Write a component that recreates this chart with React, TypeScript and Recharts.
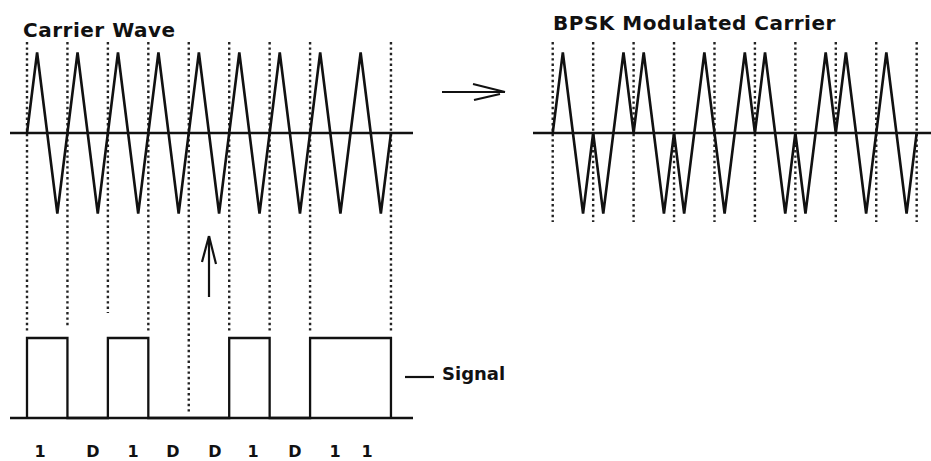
import React from 'react'
import { ComposedChart, Line, XAxis, YAxis, ReferenceLine } from 'recharts'

// bit stream and its printed labels
const bits = [1, 0, 1, 0, 0, 1, 0, 1, 1]
const bitLabels = ['1', 'D', '1', 'D', 'D', '1', 'D', '1', '1']
// one carrier period sampled at quarter periods: zero, crest, zero, trough
const carrierShape = [0, 1, 0, -1]
// bit boundaries that carry a dotted guide
const leftDividers = [0, 1, 2, 3, 4, 5, 6, 7, 9]
const rightDividers = [0, 1, 2, 3, 4, 5, 6, 7, 8, 9]

// ---- layout (pixels) ----
const W = 931
const H = 461
const AXIS_H = 30
const PLOT_H = H - AXIS_H
const X0 = 27 // pixel of first bit boundary
const BIT_W = 40.44
const RIGHT_OFFSET = 13 // right panel starts 13 bit widths later
const ZERO_Y = 133
const AMP = 80.5
const BASE_Y = 418
const HIGH_Y = 338
const LINE = '#111'
const FONT = '"DejaVu Sans", sans-serif'

const toT = (px: number) => (px - X0) / BIT_W
const toC = (py: number) => (ZERO_Y - py) / AMP
const toS = (py: number) => (BASE_Y - py) / (BASE_Y - HIGH_Y)

const leftDividerEnds = [332, 328, 313, 332, 412, 332, 332, 332, 332]
const labelX = [40, 93, 133, 173, 215, 253, 295, 335, 367]

function wave(offset: number, modulated: boolean) {
  const pts: { t: number; y: number }[] = []
  bits.forEach((b, i) => {
    const sign = modulated && b === 0 ? -1 : 1
    carrierShape.forEach((v, q) => pts.push({ t: offset + i + q / 4, y: v * sign }))
  })
  pts.push({ t: offset + bits.length, y: 0 })
  return pts
}

const carrierData = wave(0, false)
const bpskData = wave(RIGHT_OFFSET, true)
const signalData = [{ t: 0, s: 0 }, ...bits.map((b, i) => ({ t: i, s: b })), { t: bits.length, s: 0 }]

const dotted = { stroke: '#222', strokeWidth: 2.4, strokeDasharray: '2.4 3' }

function seg(axis: string, a: [number, number], b: [number, number], key: string, width = 2.2) {
  const fy = axis === 'carrier' ? toC : toS
  return (
    <ReferenceLine
      key={key}
      yAxisId={axis}
      segment={[{ x: toT(a[0]), y: fy(a[1]) }, { x: toT(b[0]), y: fy(b[1]) }]}
      stroke={LINE}
      strokeWidth={width}
      ifOverflow="visible"
    />
  )
}

export default function App() {
  const text = { position: 'absolute' as const, fontFamily: FONT, fontWeight: 700, color: '#111', whiteSpace: 'nowrap' as const }
  return (
    <div style={{ position: 'absolute', left: 0, top: 0, width: W, height: H, background: '#fff' }}>
      <ComposedChart width={W} height={H} margin={{ top: 0, right: 0, bottom: 0, left: 0 }}>
        <XAxis
          dataKey="t"
          type="number"
          domain={[toT(0), toT(W)]}
          allowDataOverflow
          ticks={labelX.map(toT)}
          interval={0}
          tickFormatter={(_v: number, i: number) => bitLabels[i]}
          axisLine={false}
          tickLine={false}
          tickSize={0}
          tickMargin={15}
          height={AXIS_H}
          tick={{ fill: '#111', fontSize: 16, fontWeight: 700, fontFamily: FONT }}
        />
        <YAxis yAxisId="carrier" type="number" hide allowDataOverflow domain={[toC(PLOT_H), toC(0)]} />
        <YAxis yAxisId="signal" type="number" hide allowDataOverflow domain={[toS(PLOT_H), toS(0)]} />

        {leftDividers.map((d, i) => (
          <ReferenceLine
            key={'ld' + i}
            yAxisId="carrier"
            segment={[{ x: d, y: toC(42) }, { x: d, y: toC(leftDividerEnds[i]) }]}
            {...dotted}
          />
        ))}
        {rightDividers.map((d) => (
          <ReferenceLine
            key={'rd' + d}
            yAxisId="carrier"
            segment={[{ x: RIGHT_OFFSET + d, y: toC(42) }, { x: RIGHT_OFFSET + d, y: toC(222) }]}
            {...dotted}
          />
        ))}

        {seg('carrier', [10, ZERO_Y], [413, ZERO_Y], 'z1', 2.6)}
        {seg('carrier', [533, ZERO_Y], [W, ZERO_Y], 'z2', 2.6)}
        {seg('signal', [10, BASE_Y], [413, BASE_Y], 'base', 2.3)}
        {seg('signal', [405, 377], [434, 377], 'dash')}

        {seg('carrier', [442, 92], [505, 92], 'ra')}
        {seg('carrier', [473, 84], [505, 92], 'rb1')}
        {seg('carrier', [474, 100], [500, 94], 'rb2')}
        {seg('signal', [209, 297], [209, 236], 'ua')}
        {seg('signal', [202, 262], [209, 236], 'ub1')}
        {seg('signal', [216, 264], [209, 236], 'ub2')}

        <Line yAxisId="carrier" data={carrierData} dataKey="y" type="linear" stroke={LINE} strokeWidth={2.6} dot={false} activeDot={false} isAnimationActive={false} />
        <Line yAxisId="carrier" data={bpskData} dataKey="y" type="linear" stroke={LINE} strokeWidth={2.6} dot={false} activeDot={false} isAnimationActive={false} />
        <Line yAxisId="signal" data={signalData} dataKey="s" type="stepAfter" stroke={LINE} strokeWidth={2.3} dot={false} activeDot={false} isAnimationActive={false} />
      </ComposedChart>

      <div style={{ ...text, left: 23, top: 20, fontSize: 20, lineHeight: '20px', letterSpacing: 0.5 }}>Carrier Wave</div>
      <div style={{ ...text, left: 553, top: 13, fontSize: 20, lineHeight: '20px', letterSpacing: 0.5 }}>BPSK Modulated Carrier</div>
      <div style={{ ...text, left: 442, top: 365, fontSize: 18, lineHeight: '18px' }}>Signal</div>
    </div>
  )
}
